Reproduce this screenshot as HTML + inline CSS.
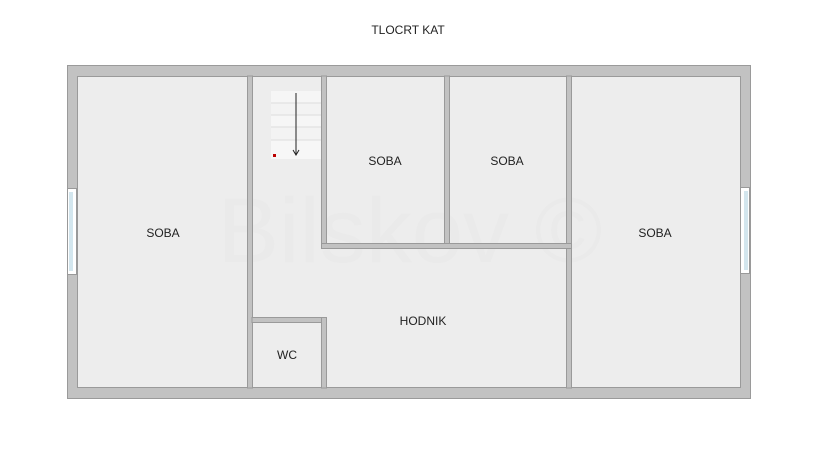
<!DOCTYPE html>
<html><head><meta charset="utf-8"><style>
html,body{margin:0;padding:0;background:#fff;}
svg{display:block}
text{font-family:"Liberation Sans",sans-serif;fill:#222;}
</style></head><body>
<svg width="815" height="464" viewBox="0 0 815 464" xmlns="http://www.w3.org/2000/svg">
<text x="408" y="34" font-size="12" text-anchor="middle">TLOCRT KAT</text>
<rect x="67.5" y="65.5" width="683" height="333" fill="#c2c2c2" stroke="#9a9a9a"/>
<rect x="77.5" y="76.5" width="663" height="311" fill="#ededed" stroke="#9a9a9a"/>
<text x="410" y="262" font-size="92" text-anchor="middle" style="fill:#eaeaea">Bilskov ©</text>
<g fill="#c2c2c2" stroke="#9a9a9a">
<rect x="247.5" y="76" width="5" height="312"/>
<rect x="321.5" y="76" width="5" height="172"/>
<rect x="444.5" y="76" width="5" height="168"/>
<rect x="566.5" y="76" width="5" height="312"/>
<rect x="321.5" y="243.5" width="250" height="5"/>
<rect x="252" y="317.5" width="74.5" height="5"/>
<rect x="321.5" y="317.5" width="5" height="70.5"/>
</g>
<rect x="67.5" y="188.5" width="9" height="86" fill="#fff" stroke="#999"/>
<rect x="69" y="192" width="4" height="79" fill="#d3e6ee"/>
<rect x="740.5" y="187.5" width="9" height="86" fill="#fff" stroke="#999"/>
<rect x="744" y="191" width="4" height="79" fill="#d3e6ee"/>
<g>
<rect x="271" y="91" width="50" height="12" fill="#f6f6f6"/>
<rect x="271" y="103" width="50" height="12" fill="#f3f3f3"/>
<rect x="271" y="115" width="50" height="12" fill="#f6f6f6"/>
<rect x="271" y="127" width="50" height="13" fill="#f3f3f3"/>
<rect x="271" y="140" width="50" height="19" fill="#f7f7f7"/>
<line x1="271" y1="103" x2="321" y2="103" stroke="#dcdcdc"/>
<line x1="271" y1="115" x2="321" y2="115" stroke="#dcdcdc"/>
<line x1="271" y1="127" x2="321" y2="127" stroke="#dcdcdc"/>
<line x1="271" y1="140" x2="321" y2="140" stroke="#dcdcdc"/>
<line x1="296" y1="93" x2="296" y2="155" stroke="#222"/>
<path d="M293 150 L296 155 L299 150" fill="none" stroke="#222"/>
<rect x="273" y="154" width="3" height="3" fill="#b00"/>
</g>
<g font-size="12" text-anchor="middle">
<text x="163" y="237">SOBA</text>
<text x="385" y="165">SOBA</text>
<text x="507" y="165">SOBA</text>
<text x="655" y="237">SOBA</text>
<text x="423" y="325">HODNIK</text>
<text x="287" y="359">WC</text>
</g>
</svg>
</body></html>
